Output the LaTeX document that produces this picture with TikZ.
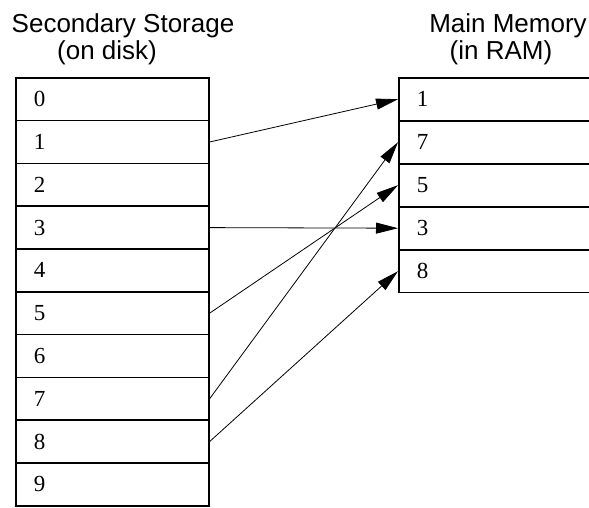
\documentclass[tikz,border=0pt]{standalone}
\usepackage{fontspec}
\setmainfont{Liberation Serif}
\newfontfamily\titlefont{Liberation Sans}
\usetikzlibrary{arrows.meta}
\begin{document}
\begin{tikzpicture}[x=1pt,y=-1pt,
  cell/.style={draw, line width=1.6pt, rectangle, minimum width=193pt, minimum height=42.8pt,
    text width=157pt, inner xsep=18pt, inner ysep=0pt, align=left, anchor=north west,
    font=\fontsize{23}{26}\selectfont},
  title/.style={anchor=base, inner sep=0pt, font=\titlefont\fontsize{26}{30}\selectfont},
  link/.style={line width=0.8pt, -{Triangle[length=22pt,width=11pt]}}]
\useasboundingbox (0,0) rectangle (589,508);
% titles
\node[title] (t1) at (123,33) {Secondary Storage};
\node[title] (t2) at (107,60) {(on disk)};
\node[title] (t3) at (508,33) {Main Memory};
\node[title] (t4) at (501,60) {(in RAM)};
% left column
\foreach \i in {0,...,9} {
  \node[cell] (L\i) at (15,{77+\i*42.8}) {\i};
}
% right column
\foreach \v [count=\j from 0] in {1,7,5,3,8} {
  \node[cell] (R\j) at (398,{77+\j*43.0}) {\v};
}
% connectors
\draw[link] (L1.east) -- (R0.west);
\draw[link] (L3.east) -- (R3.west);
\draw[link] (L5.east) -- (R2.west);
\draw[link] (L7.east) -- (R1.west);
\draw[link] (L8.east) -- (R4.west);
\end{tikzpicture}
\end{document}
